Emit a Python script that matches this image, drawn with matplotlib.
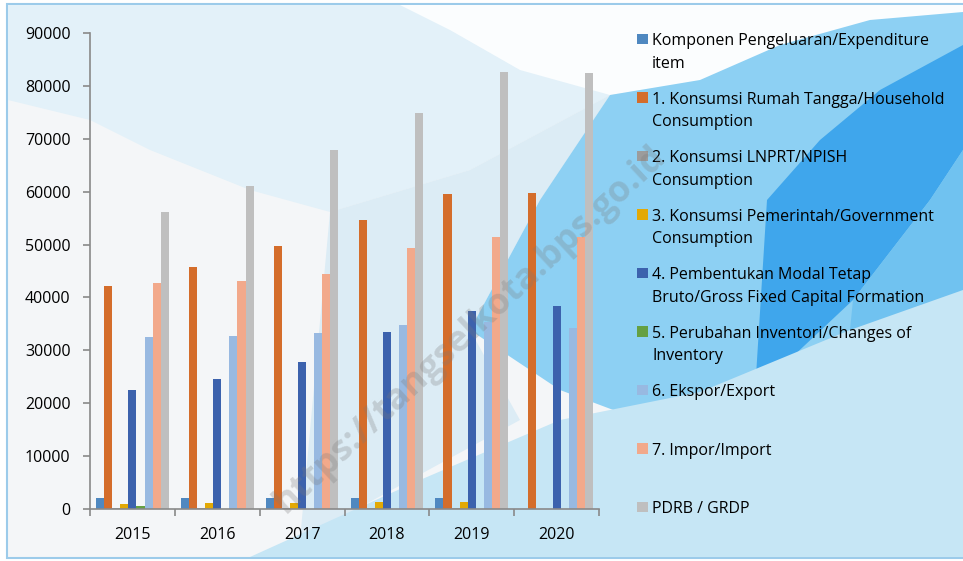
import numpy as np
import matplotlib
matplotlib.use('Agg')
import matplotlib.pyplot as plt
from matplotlib.patches import Polygon, Rectangle

plt.rcParams['font.family'] = ['Open Sans', 'DejaVu Sans']

# data (miliar rupiah)
tahun = ['2015', '2016', '2017', '2018', '2019', '2020']
komponen = [2015, 2016, 2017, 2018, 2019, 0]
konsumsi_rt = [42200, 45850, 49750, 54650, 59570, 59750]
konsumsi_lnprt = [150, 150, 160, 170, 180, 0]
konsumsi_pem = [950, 1070, 1130, 1300, 1380, 0]
pmtb = [22450, 24530, 27800, 33450, 37500, 38300]
inventori = [500, 0, 0, 0, 0, 0]
ekspor = [32450, 32700, 33270, 34700, 35300, 34300]
impor = [42770, 43200, 44340, 49430, 51500, 51500]
pdrb = [56100, 61130, 67800, 74850, 82640, 82400]

series = [komponen, konsumsi_rt, konsumsi_lnprt, konsumsi_pem, pmtb,
          inventori, ekspor, impor, pdrb]
labels = ['Komponen Pengeluaran/Expenditure\nitem',
          '1. Konsumsi Rumah Tangga/Household\nConsumption',
          '2. Konsumsi LNPRT/NPISH\nConsumption',
          '3. Konsumsi Pemerintah/Government\nConsumption',
          '4. Pembentukan Modal Tetap\nBruto/Gross Fixed Capital Formation',
          '5. Perubahan Inventori/Changes of\nInventory',
          '6. Ekspor/Export',
          '7. Impor/Import',
          'PDRB / GRDP']
colors = ['#4f88c0', '#d46d2b', '#9c9c9c', '#e3a905', '#3c62ad',
          '#65a043', '#98b9e1', '#f2a98b', '#bfbfbf']

fig = plt.figure(figsize=(9.63, 5.61), dpi=100, facecolor='white')

# latar belakang dekoratif (koordinat piksel)
bg = fig.add_axes([0, 0, 1, 1], zorder=-1)
bg.set_xlim(0, 963)
bg.set_ylim(561, 0)
bg.axis('off')
bg.add_patch(Rectangle((7, 4), 970, 554, facecolor='#f4f6f8',
                       edgecolor='#9ccbea', lw=1.5))
shapes = [
    ([(8, 5), (430, 5), (500, 45), (610, 95), (470, 170), (330, 212),
      (250, 190), (150, 150), (90, 120), (8, 100)], '#e3f1f9'),
    ([(400, 5), (963, 5), (963, 20), (880, 50), (760, 75), (610, 95),
      (520, 70), (450, 30)], '#fbfdfe'),
    ([(330, 212), (470, 170), (610, 95), (540, 200), (470, 330),
      (520, 420), (300, 540)], '#dcecf5'),
    ([(470, 330), (540, 200), (610, 95), (700, 80), (780, 45), (870, 20),
      (963, 12), (963, 557), (700, 557), (640, 420), (560, 390)], '#8dd0f3'),
    ([(755, 392), (767, 200), (820, 140), (880, 90), (963, 45),
      (963, 150), (930, 200), (853, 300)], '#3fa6ec'),
    ([(853, 300), (930, 200), (963, 150), (963, 300), (850, 330)],
     '#70c2f0'),
    ([(250, 557), (420, 480), (560, 420), (700, 392), (850, 330),
      (963, 290), (963, 557)], '#c6e6f5'),
]
for pts, c in shapes:
    bg.add_patch(Polygon(pts, closed=True, facecolor=c, edgecolor='none'))

# grafik batang
ax = fig.add_axes([90 / 963, 52 / 561, 509 / 963, 476 / 561])
ax.set_facecolor('none')
x = np.arange(len(tahun))
w = 1 / 10.5
for i, (vals, c) in enumerate(zip(series, colors)):
    ax.bar(x + (i - 4) * w, vals, width=w, color=c, zorder=2)

ax.set_xlim(-0.5, 5.5)
ax.set_ylim(0, 90000)
ax.set_yticks(range(0, 90001, 10000))
ax.set_xticks(x)
ax.set_xticklabels(tahun)
ax.set_xticks(np.arange(-0.5, 6, 1), minor=True)
ax.tick_params(axis='x', which='major', length=0, pad=13, labelsize=11.5)
ax.tick_params(axis='x', which='minor', length=5, width=1.2, color='#898989')
ax.tick_params(axis='y', length=5, width=1.2, color='#898989', pad=9,
               labelsize=11.5)
for s in ['top', 'right']:
    ax.spines[s].set_visible(False)
for s in ['left', 'bottom']:
    ax.spines[s].set_color('#898989')
    ax.spines[s].set_linewidth(1.2)

# legenda manual
for i, (lab, c) in enumerate(zip(labels, colors)):
    base = 45 + i * 58.5
    bg.add_patch(Rectangle((637, base - 11.5), 10.5, 10.5, facecolor=c,
                           edgecolor='none', zorder=3))
    for j, line in enumerate(lab.split('\n')):
        bg.text(652, base + j * 22.7, line, fontsize=11.5, color='black',
                va='baseline', ha='left', zorder=3)

# watermark
fig.text(470 / 963, 1 - 330 / 561, 'https://tangselkota.bps.go.id',
         rotation=43, ha='center', va='center', fontsize=26,
         fontweight='bold', color='#7a7a7a', alpha=0.28, zorder=5)

fig.savefig('out.png', dpi=100)
